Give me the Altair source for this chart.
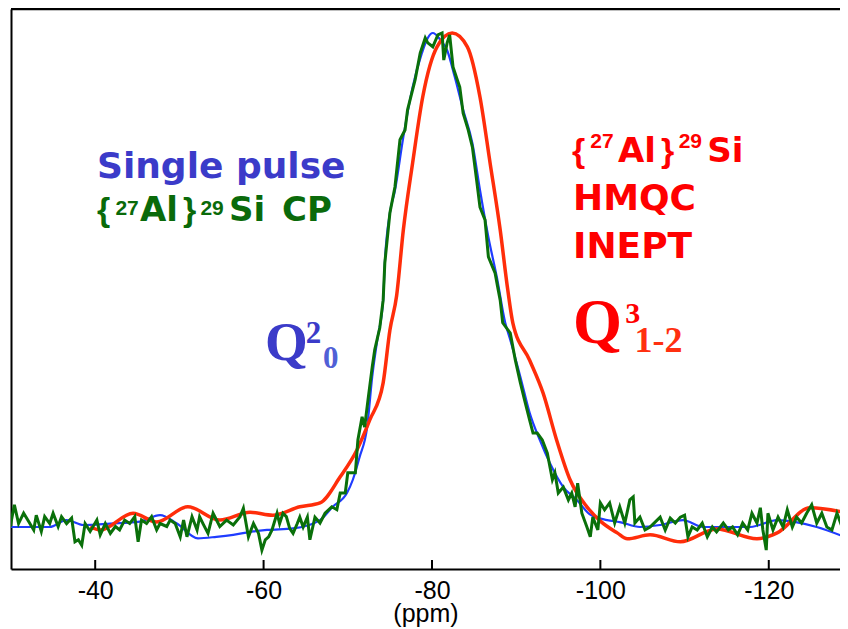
import altair as alt
import pandas as pd

# ---------------- data (ppm, normalised intensity) ----------------
blue_ppm = [-30.0, -34.6, -36.6, -38.6, -41.8, -45.3, -47.7, -49.7, -52.2, -54.4, -56.4, -58.8,
            -60.4, -63.5, -66.7, -68.2, -69.9, -70.6, -71.4, -72.3, -72.9, -73.5, -74.2, -74.4,
            -75.0, -75.6, -76.6, -77.7, -78.8, -79.5, -80.1, -81.0, -81.8, -82.7, -83.7, -84.8,
            -85.7, -86.7, -87.7, -88.7, -89.3, -90.5, -91.6, -92.8, -94.0, -95.6, -97.2, -98.8,
            -100.8, -102.3, -104.7, -107.1, -109.8, -112.2, -117.8, -121.0, -125.7, -129.4]
blue_int = [0.000, 0.000, 0.014, 0.004, 0.007, 0.011, 0.024, 0.007, -0.023, -0.020, -0.016, -0.009,
            -0.006, -0.003, 0.014, 0.041, 0.069, 0.096, 0.142, 0.203, 0.305, 0.380, 0.461, 0.537,
            0.638, 0.684, 0.793, 0.894, 0.963, 0.994, 1.004, 0.990, 0.969, 0.915, 0.848, 0.780,
            0.685, 0.589, 0.508, 0.415, 0.380, 0.305, 0.232, 0.177, 0.130, 0.081, 0.055, 0.025,
            0.014, 0.010, 0.000, 0.004, 0.014, 0.000, 0.000, 0.014, 0.000, -0.023]

red_ppm = [-39.4, -40.6, -44.5, -47.3, -51.0, -54.8, -58.4, -61.1, -64.3, -66.7, -69.1, -71.1,
           -72.6, -74.2, -75.0, -75.8, -76.6, -77.7, -78.9, -80.6, -82.4, -84.2, -85.7, -86.9,
           -88.1, -89.0, -89.6, -91.6, -93.2, -94.8, -96.4, -98.4, -100.0, -102.0, -103.2,
           -105.9, -109.5, -113.8, -118.6, -121.0, -124.9, -129.4]
red_int = [0.000, -0.006, 0.028, 0.010, 0.041, 0.014, 0.030, 0.024, 0.041, 0.049, 0.102, 0.157,
           0.217, 0.293, 0.400, 0.470, 0.604, 0.740, 0.874, 0.976, 1.004, 0.976, 0.874, 0.740,
           0.604, 0.482, 0.415, 0.339, 0.272, 0.177, 0.096, 0.041, 0.012, -0.012, -0.024,
           -0.016, -0.030, -0.004, -0.024, -0.012, 0.039, 0.028]

green_ppm = [-29.9, -30.4, -30.9, -31.5, -32.1, -32.7, -33.0, -33.6, -34.0, -34.6, -35.0, -35.6,
             -36.0, -36.6, -37.2, -37.6, -38.0, -38.4, -38.8, -39.4, -40.2, -40.6, -41.2, -41.8,
             -42.4, -42.9, -43.5, -44.1, -44.7, -45.1, -45.5, -46.1, -46.7, -47.3, -47.7, -48.5,
             -48.9, -49.5, -50.1, -50.5, -50.9, -51.5, -52.1, -52.4, -52.8, -53.4, -54.0, -54.8,
             -55.6, -56.4, -57.2, -57.6, -58.2, -58.8, -59.4, -59.8, -60.2, -60.6, -61.0, -61.6,
             -61.9, -62.3, -62.7, -63.1, -63.5, -64.0, -64.3, -64.7, -65.2, -65.5, -66.1, -66.7,
             -67.3, -68.1, -68.7, -69.1, -69.7, -70.0, -70.9, -71.2, -71.7, -72.0, -72.4, -72.9,
             -73.2, -73.8, -74.2, -74.4, -75.0, -75.6, -76.2, -76.8, -77.1, -78.0, -78.6, -79.2,
             -79.5, -80.1, -80.7, -81.2, -81.4, -81.8, -82.1, -82.5, -83.0, -83.3, -83.7, -84.3,
             -84.8, -85.3, -85.7, -86.3, -86.7, -87.5, -87.8, -88.1, -88.4, -89.3, -89.9, -90.5,
             -91.0, -91.6, -92.0, -92.5, -93.1, -93.7, -94.3, -94.6, -95.0, -95.6, -96.2, -96.6,
             -97.0, -97.3, -97.8, -98.4, -98.8, -99.1, -99.7, -100.0, -100.5, -101.1, -101.7,
             -102.3, -102.9, -103.5, -103.9, -104.1, -104.7, -105.3, -105.9, -106.5, -107.1,
             -107.7, -108.3, -108.9, -109.5, -110.0, -110.4, -110.9, -111.5, -112.1, -112.7,
             -113.3, -113.8, -114.6, -115.2, -115.7, -116.3, -116.9, -117.5, -118.0, -118.6,
             -119.0, -119.3, -119.7, -119.9, -120.5, -121.1, -121.7, -122.2, -122.8, -123.3,
             -123.9, -124.5, -125.1, -125.7, -126.3, -126.9, -127.5, -128.1, -128.7, -129.4]
green_int = [0.000, 0.045, 0.007, 0.028, 0.011, -0.006, 0.024, -0.009, 0.021, 0.007, 0.028, 0.001,
             0.021, 0.007, 0.018, -0.030, -0.026, -0.037, 0.007, -0.009, 0.014, -0.016, 0.007, -0.013,
             0.001, -0.006, 0.014, 0.007, 0.021, -0.030, 0.014, 0.007, 0.021, -0.006, 0.007, 0.001,
             0.014, 0.007, -0.020, 0.014, -0.020, 0.021, -0.006, 0.021, 0.007, -0.013, 0.028, 0.001,
             0.014, 0.004, 0.021, 0.038, -0.020, 0.007, -0.013, -0.047, -0.026, -0.020, -0.006, 0.028,
             0.007, 0.028, 0.021, -0.003, -0.013, 0.007, 0.020, 0.000, 0.020, -0.026, 0.020, 0.008,
             0.028, 0.041, 0.035, 0.069, 0.069, 0.110, 0.110, 0.177, 0.224, 0.203, 0.258, 0.325,
             0.360, 0.405, 0.461, 0.537, 0.638, 0.691, 0.787, 0.807, 0.848, 0.909, 0.963, 0.994,
             0.984, 0.976, 1.000, 1.004, 0.949, 0.984, 1.000, 0.935, 0.909, 0.894, 0.841, 0.807,
             0.772, 0.705, 0.650, 0.624, 0.549, 0.516, 0.488, 0.461, 0.415, 0.394, 0.339, 0.293,
             0.258, 0.217, 0.191, 0.191, 0.177, 0.150, 0.096, 0.110, 0.069, 0.081, 0.055, 0.069,
             0.041, 0.089, 0.028, 0.000, -0.020, 0.020, -0.006, 0.049, 0.035, 0.049, 0.008,
             0.041, 0.008, 0.055, 0.061, 0.008, 0.020, -0.006, 0.000, 0.010, 0.020,
             -0.006, 0.018, 0.008, 0.020, 0.024, -0.020, 0.000, -0.006, 0.008, -0.020,
             0.000, -0.010, 0.008, -0.006, 0.000, -0.016, 0.008, -0.006, 0.028, 0.008,
             0.039, -0.006, -0.047, 0.028, -0.006, 0.020, 0.000, 0.035, 0.000, 0.020,
             0.008, 0.028, 0.045, 0.008, 0.028, 0.000, -0.006, 0.028, 0.000, -0.012]

tick_values = [-40, -60, -80, -100, -120]

# annotation texts: (text, ppm, intensity, colour, size, family)
BLUE_T = "#3b3bc9"
GREEN_T = "#0a6a0a"
RED_T = "#ff0000"
annotations = [
    ("Single pulse", -40.21, 0.709, BLUE_T, 36, "wide"),
    ("{", -40.21, 0.622, GREEN_T, 34, "narrow"),
    ("27", -42.40, 0.634, GREEN_T, 21, "narrow"),
    ("Al", -45.32, 0.622, GREEN_T, 34, "wide"),
    ("}", -50.43, 0.622, GREEN_T, 34, "narrow"),
    ("29", -52.50, 0.634, GREEN_T, 21, "narrow"),
    ("Si", -55.90, 0.622, GREEN_T, 34, "wide"),
    ("CP", -62.20, 0.622, GREEN_T, 34, "wide"),
    ("{", -96.63, 0.742, RED_T, 34, "narrow"),
    ("27", -98.80, 0.770, RED_T, 21, "narrow"),
    ("Al", -102.09, 0.742, RED_T, 34, "wide"),
    ("}", -107.20, 0.742, RED_T, 34, "narrow"),
    ("29", -109.30, 0.770, RED_T, 21, "narrow"),
    ("Si", -112.70, 0.742, RED_T, 34, "wide"),
    ("HMQC", -96.75, 0.644, RED_T, 36, "wide"),
    ("INEPT", -96.75, 0.547, RED_T, 36, "wide"),
    ("Q", -60.17, 0.339, BLUE_T, 55, "serif"),
    ("2", -65.00, 0.374, BLUE_T, 31, "serif"),
    ("0", -67.06, 0.323, "#5060d6", 31, "serif"),
    ("Q", -96.75, 0.374, RED_T, 63, "serif"),
    ("3", -102.95, 0.415, RED_T, 30, "serif"),
    ("1-2", -104.05, 0.356, "#ff3010", 36, "serif"),
]

# ---------------- chart ----------------
W, H = 829, 560
xs = alt.Scale(domain=[-128.46, -30], reverse=True, nice=False, zero=False)
ys = alt.Scale(domain=[-0.0854, 1.0528], nice=False, zero=False)

x_axis = alt.Axis(values=tick_values, ticks=False, grid=False, domainColor="black",
                  domainWidth=2, labelFont="Liberation Sans", labelFontSize=25,
                  labelColor="black", labelPadding=9, labelFlush=False, labelOverlap=False,
                  labelExpr="datum.value < 0 ? '-' + format(-datum.value, 'd') : format(datum.value, 'd')",
                  title="(ppm)", titleFont="Liberation Sans", titleFontSize=25,
                  titleFontWeight="normal", titleColor="black", titleY=32, titleBaseline="top")
y_axis = alt.Axis(labels=False, ticks=False, grid=False, title=None,
                  domainColor="black", domainWidth=2)

X = alt.X("ppm:Q", scale=xs, axis=x_axis)
Y = alt.Y("intensity:Q", scale=ys, axis=y_axis)

df_blue = pd.DataFrame({"ppm": blue_ppm, "intensity": blue_int})
df_red = pd.DataFrame({"ppm": red_ppm, "intensity": red_int})
df_green = pd.DataFrame({"ppm": green_ppm, "intensity": green_int})

blue = alt.Chart(df_blue).mark_line(color="#1f3cff", strokeWidth=2.2, interpolate="monotone",
                                    clip=True).encode(x=X, y=Y)
red = alt.Chart(df_red).mark_line(color="#ff2d0a", strokeWidth=3.5, interpolate="monotone",
                                  clip=True).encode(x=X, y=Y)
green = alt.Chart(df_green).mark_line(color="#0a700a", strokeWidth=3, clip=True).encode(x=X, y=Y)

df_ticks = pd.DataFrame({"ppm": tick_values})
ticks = alt.Chart(df_ticks).mark_rule(color="black", strokeWidth=2).encode(
    x=X, y=alt.value(H), y2=alt.value(H - 9))

top_frame = alt.Chart(pd.DataFrame({"a": [0]})).mark_rule(color="black", strokeWidth=2.5).encode(
    x=alt.value(0), x2=alt.value(W), y=alt.value(0))

df_ann = pd.DataFrame(annotations, columns=["text", "ppm", "intensity", "color", "size", "family"])


def text_layer(family, font):
    return alt.Chart(df_ann).transform_filter(
        alt.datum.family == family
    ).mark_text(font=font, fontWeight="bold", align="left", baseline="alphabetic").encode(
        x=X, y=Y,
        text="text:N",
        color=alt.Color("color:N", scale=None),
        size=alt.Size("size:Q", scale=None))


wide_text = text_layer("wide", "DejaVu Sans")
narrow_text = text_layer("narrow", "Liberation Sans")
serif_text = text_layer("serif", "Liberation Serif")

chart = alt.layer(blue, red, green, ticks, top_frame, wide_text, narrow_text, serif_text).properties(
    width=W, height=H,
    autosize=alt.AutoSizeParams(type="none"),
    padding={"left": 3, "top": 1, "right": 0, "bottom": 58},
    background="white",
).configure_view(stroke=None)

chart.save("out.html", embed_options={"renderer": "svg", "actions": False})
